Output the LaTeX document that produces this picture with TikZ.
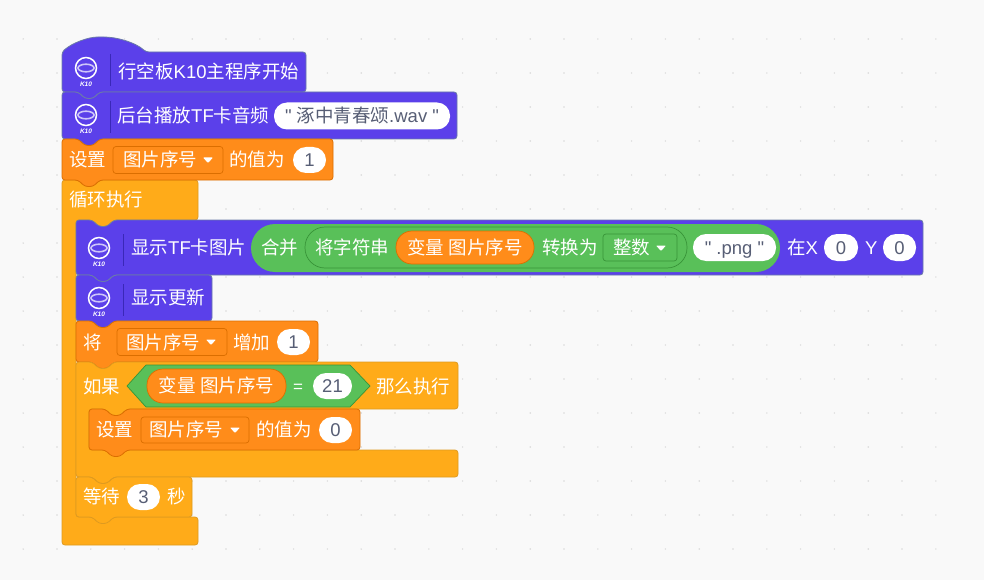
\documentclass[tikz,border=0pt]{standalone}
\usepackage{fontspec}
\setmainfont{Noto Sans CJK SC}
\setsansfont{Liberation Sans}
\newfontfamily\arialfont{Liberation Sans}
\newcommand{\lat}[1]{{\arialfont #1}}
\definecolor{boardbg}{HTML}{F9F9F9}
\definecolor{griddot}{HTML}{D9D9D9}
\definecolor{k10fill}{HTML}{5B40EA}
\definecolor{k10line}{HTML}{6B7BA8}
\definecolor{k10sep}{HTML}{3A28B8}
\definecolor{varfill}{HTML}{FF8C1A}
\definecolor{varline}{HTML}{DB6E00}
\definecolor{ctrlfill}{HTML}{FFAB19}
\definecolor{ctrlline}{HTML}{DE9A20}
\definecolor{opfill}{HTML}{59C059}
\definecolor{opline}{HTML}{389438}
\definecolor{valtext}{HTML}{575E75}
\tikzset{
  k10block/.style={fill=k10fill,draw=k10line,line width=.8pt,rounded corners=3},
  varblock/.style={fill=varfill,draw=varline,line width=.8pt,rounded corners=3},
  ctrlblock/.style={fill=ctrlfill,draw=ctrlline,line width=.8pt,rounded corners=3},
  blocktext/.style={anchor=west,inner sep=0pt,text=white,text height=16pt,text depth=3pt,font=\fontsize{18.5}{22}\selectfont},
  valuepill/.style={fill=white,rounded corners=13,inner sep=0pt,text=valtext,text height=16pt,text depth=3pt,font=\fontsize{18.5}{22}\selectfont},
  fieldbox/.style={draw=varline,fill=varfill,rounded corners=3,line width=.7pt,inner sep=0pt},
  opfield/.style={draw=opline,fill=opfill,rounded corners=3,line width=.7pt,inner sep=0pt},
  varpill/.style={fill=varfill,draw=varline,line width=.7pt,rounded corners=16,inner sep=0pt,text=white,text height=16pt,text depth=3pt,font=\fontsize{18.5}{22}\selectfont},
}
\newcommand{\stackblock}[5]{%
  \draw[#5] (#1,{#2+10}) -- (#1,#2) -- ({#1+16},#2) -- ({#1+23},{#2+6.5}) -- ({#1+31},{#2+6.5}) -- ({#1+38},#2) -- (#3,#2) -- (#3,#4)
    -- ({#1+38},#4) -- ({#1+31},{#4+6.5}) -- ({#1+23},{#4+6.5}) -- ({#1+16},#4) -- (#1,#4) -- cycle;}
\newcommand{\kiconmark}[3]{%
  \draw[white,line width=1.5pt] (#1,#2) circle (10.5);
  \draw[white!70!k10fill,line width=1.6pt] (#1,#2) ellipse (8 and 3.8);
  \node[inner sep=0pt,text=white,font=\sffamily\bfseries\itshape\fontsize{6.5}{7}\selectfont] (#3) at (#1,{#2+16}) {K10};
  \draw[k10sep,line width=1pt] ({#1+24},{#2-14}) -- ({#1+24},{#2+18});}
\newcommand{\droparrow}[2]{%
  \fill[white,rounded corners=.8] ({#1-5},{#2-2.5}) -- ({#1+5},{#2-2.5}) -- (#1,{#2+3}) -- cycle;}
\begin{document}
\begin{tikzpicture}[x=1pt,y=-1pt]
\useasboundingbox (0,0) rectangle (984,580);
\fill[boardbg] (0,0) rectangle (984,580);
\foreach \i in {0,...,27}
  \foreach \j in {-7,...,8}
    \fill[griddot] ({23.2+33.8*\i},{277+34*\j}) circle (.8);

\draw[k10block] (62,60) -- (62,52) .. controls (72,43) and (88,37) .. (101,37) .. controls (116,37) and (135,42) .. (146,52) -- (306,52) -- (306,92)
  -- (100,92) -- (93,98.5) -- (85,98.5) -- (78,92) -- (62,92) -- cycle;
\kiconmark{86}{68}{hatmark}
\node[blocktext] (hatlabel) at (118,72) {行空板\lat{K10}主程序开始};

\stackblock{62}{92}{457}{139}{k10block}
\kiconmark{86}{115}{playmark}
\node[blocktext] (playlabel) at (117,116) {后台播放\lat{TF}卡音频};
\node[valuepill,minimum width=176,minimum height=27] (playfile) at (362,116) {\lat{" }涿中青春颂\lat{.wav "}};

\draw[ctrlblock] (62,190) -- (62,180) -- (78,180) -- (85,186.5) -- (93,186.5) -- (100,180) -- (198,180) -- (198,220) -- (114,220) -- (107,226.5) -- (99,226.5) -- (92,220) -- (76,220)
  -- (76,517) -- (198,517) -- (198,545) -- (62,545) -- cycle;
\node[blocktext] (looplabel) at (69,200) {循环执行};

\stackblock{62}{139}{333}{180}{varblock}
\node[blocktext] (setlabel) at (69,160) {设置};
\node[fieldbox,minimum width=110,minimum height=27] (setfield) at (168,160) {};
\node[blocktext] (setname) at (123,160) {图片序号};
\droparrow{208}{160}
\node[blocktext] (setvalue) at (229,160) {的值为};
\node[valuepill,minimum width=33,minimum height=26] (setnum) at (309.5,160) {\lat{1}};

\stackblock{76}{220}{923}{275}{k10block}
\kiconmark{99}{248}{showmark}
\node[blocktext] (showlabel) at (131,248) {显示\lat{TF}卡图片};
\node[fill=opfill,rounded corners=24,inner sep=0pt,minimum width=529,minimum height=48] (joinpill) at (515.5,248) {};
\node[blocktext] (joinlabel) at (261,248) {合并};
\node[draw=opline,fill=opfill,line width=.7pt,rounded corners=20,inner sep=0pt,minimum width=382,minimum height=41] (castpill) at (496,247.5) {};
\node[blocktext] (castlabel) at (315,248) {将字符串};
\node[varpill,minimum width=138,minimum height=33] (castvar) at (465,247.5) {变量 图片序号};
\node[blocktext] (casthow) at (542,248) {转换为};
\node[opfield,minimum width=74,minimum height=27] (castfield) at (640,247.5) {};
\node[blocktext] (casttype) at (613,248) {整数};
\droparrow{661}{248}
\node[valuepill,minimum width=83,minimum height=27] (pngtext) at (734.5,247.5) {\lat{" .png "}};
\node[blocktext] (xlabel) at (787,248) {在\lat{X}};
\node[valuepill,minimum width=34,minimum height=27] (xnum) at (841,247.5) {\lat{0}};
\node[blocktext] (ylabel) at (865,248) {\lat{Y}};
\node[valuepill,minimum width=33,minimum height=27] (ynum) at (899.5,247.5) {\lat{0}};

\stackblock{76}{275}{212}{321}{k10block}
\kiconmark{99}{298}{drawmark}
\node[blocktext] (drawlabel) at (131,298) {显示更新};

\stackblock{76}{321}{318}{362}{varblock}
\node[blocktext] (addlabel) at (83,343) {将};
\node[fieldbox,minimum width=110,minimum height=27] (addfield) at (172,342) {};
\node[blocktext] (addname) at (126,343) {图片序号};
\droparrow{211}{342}
\node[blocktext] (addhow) at (233,343) {增加};
\node[valuepill,minimum width=33,minimum height=26] (addnum) at (293.5,342) {\lat{1}};

\draw[ctrlblock] (76,372) -- (76,362) -- (92,362) -- (99,368.5) -- (107,368.5) -- (114,362) -- (458,362) -- (458,409) -- (127,409) -- (120,415.5) -- (112,415.5) -- (105,409) -- (89,409)
  -- (89,450) -- (458,450) -- (458,477) -- (114,477) -- (107,483.5) -- (99,483.5) -- (92,477) -- (76,477) -- cycle;
\node[blocktext] (iflabel) at (83,387) {如果};
\draw[fill=opfill,draw=opline,line width=.7pt] (127,386) -- (146,365) -- (350,365) -- (370,386) -- (350,407) -- (146,407) -- cycle;
\node[varpill,minimum width=139,minimum height=34] (ifvar) at (216.5,386) {变量 图片序号};
\node[blocktext,font=\arialfont\fontsize{17}{20}\selectfont] (ifsign) at (293,386) {=};
\node[valuepill,minimum width=39,minimum height=26] (ifnum) at (332.5,386) {\lat{21}};
\node[blocktext] (ifthen) at (376,387) {那么执行};

\stackblock{89}{409}{360}{450}{varblock}
\node[blocktext] (resetlabel) at (96,430) {设置};
\node[fieldbox,minimum width=108,minimum height=26] (resetfield) at (195,430) {};
\node[blocktext] (resetname) at (149,430) {图片序号};
\droparrow{235}{430}
\node[blocktext] (resetvalue) at (256,430) {的值为};
\node[valuepill,minimum width=33,minimum height=26] (resetnum) at (335.5,430) {\lat{0}};

\stackblock{76}{477}{192}{517}{ctrlblock}
\node[blocktext] (waitlabel) at (83,497) {等待};
\node[valuepill,minimum width=33,minimum height=26] (waitnum) at (143.5,497) {\lat{3}};
\node[blocktext] (waitunit) at (167,497) {秒};
\end{tikzpicture}
\end{document}
